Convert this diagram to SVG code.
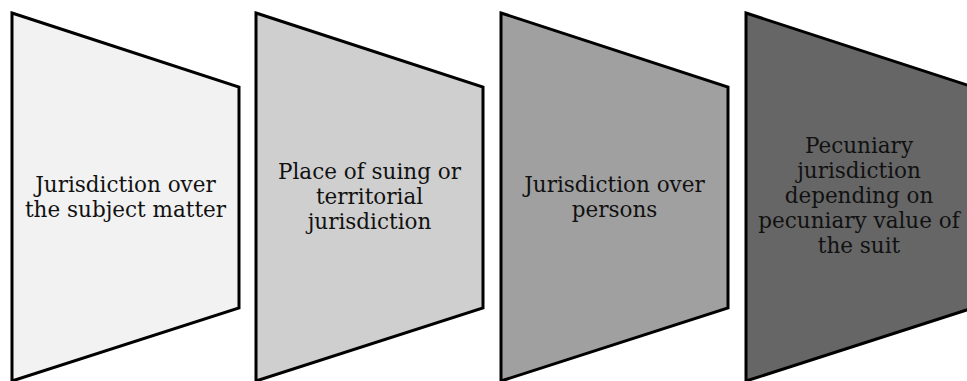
<svg xmlns="http://www.w3.org/2000/svg" width="967" height="381" viewBox="0 0 967 381">
<style>
.s{stroke:#000;stroke-width:3;stroke-linejoin:miter}
.t{font-family:"DejaVu Serif","Liberation Serif",serif;font-size:21.5px;fill:#111;text-anchor:middle}
</style>
<rect width="967" height="381" fill="#fff"/>
<g id="node1">
<polygon class="s" fill="#f2f2f2" points="12,13 239,87 239,308 12,381"/>
<text class="t"><tspan x="125.5" y="192">Jurisdiction over</tspan><tspan x="125.5" y="217">the subject matter</tspan></text>
</g>
<g id="node2">
<polygon class="s" fill="#cfcfcf" points="256,13 483,87 483,308 256,381"/>
<text class="t"><tspan x="369.5" y="179">Place of suing or</tspan><tspan x="369.5" y="204">territorial</tspan><tspan x="369.5" y="229">jurisdiction</tspan></text>
</g>
<g id="node3">
<polygon class="s" fill="#a0a0a0" points="501,13 728,87 728,308 501,381"/>
<text class="t"><tspan x="614.5" y="192">Jurisdiction over</tspan><tspan x="614.5" y="217">persons</tspan></text>
</g>
<g id="node4">
<polygon class="s" fill="#666666" points="746,13 973,87 973,308 746,381"/>
<text class="t"><tspan x="859" y="153">Pecuniary</tspan><tspan x="859" y="178">jurisdiction</tspan><tspan x="859" y="203">depending on</tspan><tspan x="859" y="228">pecuniary value of</tspan><tspan x="859" y="253">the suit</tspan></text>
</g>
<g id="connectors"></g>
</svg>
